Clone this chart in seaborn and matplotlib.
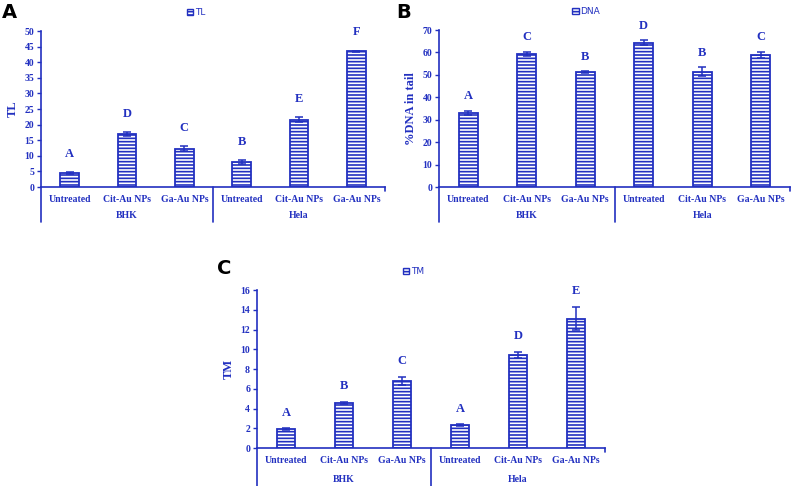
import matplotlib
matplotlib.use("Agg")
import matplotlib.pyplot as plt
from matplotlib.patches import Patch
import numpy as np
import pandas as pd
import seaborn as sns

sns.set_style("white")
plt.rcParams['font.family'] = ['Liberation Serif', 'DejaVu Serif']
plt.rcParams['hatch.linewidth'] = 1.2

BLUE = "#2230c0"
plt.rcParams['hatch.color'] = BLUE

treatments = ["Untreated", "Cit-Au NPs", "Ga-Au NPs"]
cells = ["BHK", "Hela"]

tl_vals = [4.5, 17.0, 12.3, 8.0, 21.5, 43.5]
tl_err = [0.3, 0.6, 0.7, 0.6, 0.8, 0.2]
tl_letters = ["A", "D", "C", "B", "E", "F"]

dna_vals = [33.0, 59.3, 51.3, 64.3, 51.3, 59.0]
dna_err = [1.0, 1.0, 0.3, 1.2, 2.0, 1.3]
dna_letters = ["A", "C", "B", "D", "B", "C"]

tm_vals = [1.9, 4.6, 6.8, 2.3, 9.4, 13.1]
tm_err = [0.1, 0.1, 0.4, 0.1, 0.3, 1.2]
tm_letters = ["A", "B", "C", "A", "D", "E"]

W, H = 792, 486
fig = plt.figure(figsize=(W / 100, H / 100), dpi=100)


def px_axes(x0, x1, ytop, ybot):
    return fig.add_axes([x0 / W, 1 - ybot / H, (x1 - x0) / W, (ybot - ytop) / H])


def panel(ax, vals, errs, letters, name, ylabel, ymax, ystep, letter_off, sep_px):
    keys = [f"{c}|{t}" for c in cells for t in treatments]
    df = pd.DataFrame({"key": keys, "val": vals})
    sns.barplot(data=df, x="key", y="val", order=keys, color="white",
                edgecolor=BLUE, linewidth=1.3, width=0.32, errorbar=None,
                saturation=1, ax=ax)
    for p in ax.patches:
        p.set_hatch("-----")
        p.set_facecolor("white")
        p.set_edgecolor(BLUE)
    x = np.arange(len(vals))
    ax.errorbar(x, vals, yerr=errs, fmt="none", ecolor=BLUE, elinewidth=1.1,
                capsize=3.2, capthick=1.1)
    for i, (v, e, l) in enumerate(zip(vals, errs, letters)):
        ax.annotate(l, (i, v + e), xytext=(0, letter_off), textcoords="offset points",
                    ha="center", va="bottom", fontsize=9, fontweight="bold", color=BLUE)
    ax.set_xlim(-0.5, 5.5)
    ax.set_ylim(0, ymax)
    ax.set_yticks(np.arange(0, ymax + 0.01, ystep))
    ax.set_xticks(x)
    ax.set_xticklabels(treatments * 2)
    ax.tick_params(axis="x", length=0, pad=6, labelsize=7, colors=BLUE)
    ax.tick_params(axis="y", length=3, width=1, direction="out", pad=2,
                   labelsize=7, colors=BLUE, left=True)
    for lab in ax.get_xticklabels() + ax.get_yticklabels():
        lab.set_fontweight("bold")
    ax.set_xlabel("")
    ax.set_ylabel(ylabel, color=BLUE, fontsize=9, fontweight="bold", labelpad=4)
    sns.despine(ax=ax)
    for s in ["left", "bottom"]:
        ax.spines[s].set_color(BLUE)
        ax.spines[s].set_linewidth(1.2)
    h = ax.get_window_extent().height
    depth = sep_px / h
    trans = ax.get_xaxis_transform()
    for xs in [-0.5, 2.5]:
        ax.plot([xs, xs], [0, -depth], color=BLUE, lw=1.2, transform=trans, clip_on=False)
    ax.plot([5.5, 5.5], [0, -4 / h], color=BLUE, lw=1.2, transform=trans, clip_on=False)
    for j, c in enumerate(cells):
        ax.text(1 + 3 * j, -(sep_px - 7) / h, c, transform=trans, ha="center",
                va="center", fontsize=7, fontweight="bold", color=BLUE)
    handle = Patch(facecolor="white", edgecolor=BLUE, hatch="-----", linewidth=1)
    ax.legend(handles=[handle], labels=[name], loc="lower center",
              bbox_to_anchor=(0.45, 1.06), frameon=False, handlelength=0.7,
              handleheight=0.7, handletextpad=0.2, borderpad=0,
              prop={"family": "DejaVu Sans", "size": 6.5}, labelcolor=BLUE)


axA = px_axes(41, 385, 31, 187)
panel(axA, tl_vals, tl_err, tl_letters, "TL", "TL", 50, 5, 9, 35)

axB = px_axes(439, 790, 30, 187)
panel(axB, dna_vals, dna_err, dna_letters, "DNA", "%DNA in tail", 70, 10, 6, 35)
axB.legend_.set_bbox_to_anchor((0.42, 1.06))

axC = px_axes(257, 605, 290, 448)
panel(axC, tm_vals, tm_err, tm_letters, "TM", "TM", 16, 2, 7, 38)

for t, (px, py) in zip("ABC", [(2, 3), (396, 3), (217, 259)]):
    fig.text(px / W, 1 - py / H, t, ha="left", va="top", fontsize=14,
             fontweight="bold", family="DejaVu Sans", color="black")

fig.savefig("out.png", dpi=100)
